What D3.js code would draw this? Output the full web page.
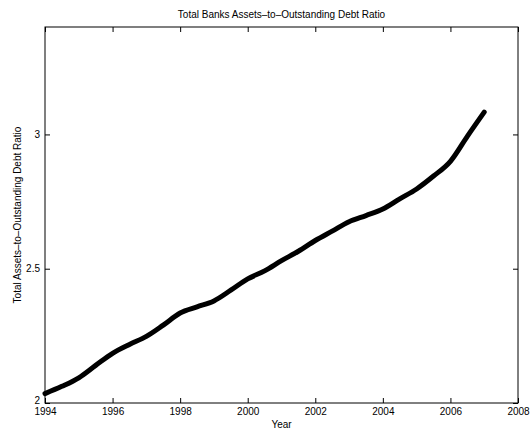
<!DOCTYPE html>
<html>
<head>
<meta charset="utf-8">
<script src="https://cdn.jsdelivr.net/npm/d3@7"></script>
<style>
  body { margin: 0; background: #fff; }
  text { font-family: "Liberation Sans", Arial, sans-serif; fill: #000; }
</style>
</head>
<body>
<svg id="chart" width="530" height="434"></svg>
<script>
// values (roughly every half year)
const years = [1994.0, 1994.5, 1995.0, 1995.5, 1996.0, 1996.5, 1997.0, 1997.5, 1998.0, 1998.5,
               1999.0, 1999.5, 2000.0, 2000.5, 2001.0, 2001.5, 2002.0, 2002.5, 2003.0, 2003.5,
               2004.0, 2004.5, 2005.0, 2005.5, 2006.0, 2006.5, 2007.0]
const ratio = [2.035, 2.062, 2.094, 2.14, 2.185, 2.218, 2.248, 2.29, 2.335, 2.358,
               2.38, 2.42, 2.462, 2.492, 2.53, 2.565, 2.605, 2.64, 2.675, 2.698,
               2.722, 2.76, 2.797, 2.845, 2.9, 2.993, 3.083]
const xTicks = [1994, 1996, 1998, 2000, 2002, 2004, 2006, 2008]
const yTicks = [2, 2.5, 3]

const margin = {left: 45, right: 12, top: 27, bottom: 31}
const W = 530, H = 434
const svg = d3.select("#chart")

const x = d3.scaleLinear().domain([1994, 2008]).range([margin.left, W - margin.right])
const y = d3.scaleLinear().domain([2, 3.4]).range([H - margin.bottom, margin.top])

const g = svg.append("g")

// bottom axis, ticks pointing inward
const xAxis = g.append("g").attr("transform", `translate(0,${y(2)})`)
  .call(d3.axisBottom(x).tickValues(xTicks).tickFormat(d3.format("d")).tickSize(-5).tickPadding(6))
xAxis.select(".domain").remove()
xAxis.selectAll("text").style("font-size", "10px").attr("dy", "0.55em")

const xTop = g.append("g").attr("transform", `translate(0,${y(3.4)})`)
  .call(d3.axisTop(x).tickValues(xTicks).tickFormat("").tickSize(-5))
xTop.select(".domain").remove()

const yAxis = g.append("g").attr("transform", `translate(${x(1994)},0)`)
  .call(d3.axisLeft(y).tickValues(yTicks).tickFormat(d => d).tickSize(-5).tickPadding(5))
yAxis.select(".domain").remove()
yAxis.selectAll("text").style("font-size", "10px")
yAxis.selectAll(".tick").filter(d => d === 2).select("text").attr("dy", "0.05em")

const yRight = g.append("g").attr("transform", `translate(${x(2008)},0)`)
  .call(d3.axisRight(y).tickValues(yTicks).tickFormat("").tickSize(-5))
yRight.select(".domain").remove()

g.selectAll(".tick line").attr("stroke", "#000").attr("stroke-width", 1)

// box
g.append("rect")
  .attr("x", x(1994)).attr("y", y(3.4))
  .attr("width", x(2008) - x(1994)).attr("height", y(2) - y(3.4))
  .attr("fill", "none").attr("stroke", "#000").attr("stroke-width", 1)

// series
const line = d3.line().x((d, i) => x(years[i])).y(d => y(d)).curve(d3.curveMonotoneX)
g.append("path")
  .datum(ratio)
  .attr("d", line)
  .attr("fill", "none")
  .attr("stroke", "#000")
  .attr("stroke-width", 5)
  .attr("stroke-linecap", "round")
  .attr("stroke-linejoin", "round")

// labels
svg.append("text").attr("x", (x(1994) + x(2008)) / 2).attr("y", 18)
  .attr("text-anchor", "middle").style("font-size", "10px")
  .text("Total Banks Assets–to–Outstanding Debt Ratio")

svg.append("text").attr("x", (x(1994) + x(2008)) / 2).attr("y", 428)
  .attr("text-anchor", "middle").style("font-size", "10px")
  .text("Year")

svg.append("text")
  .attr("transform", `translate(21,${(y(2) + y(3.4)) / 2}) rotate(-90)`)
  .attr("text-anchor", "middle").style("font-size", "10px")
  .text("Total Assets–to–Outstanding Debt Ratio")
</script>
</body>
</html>
